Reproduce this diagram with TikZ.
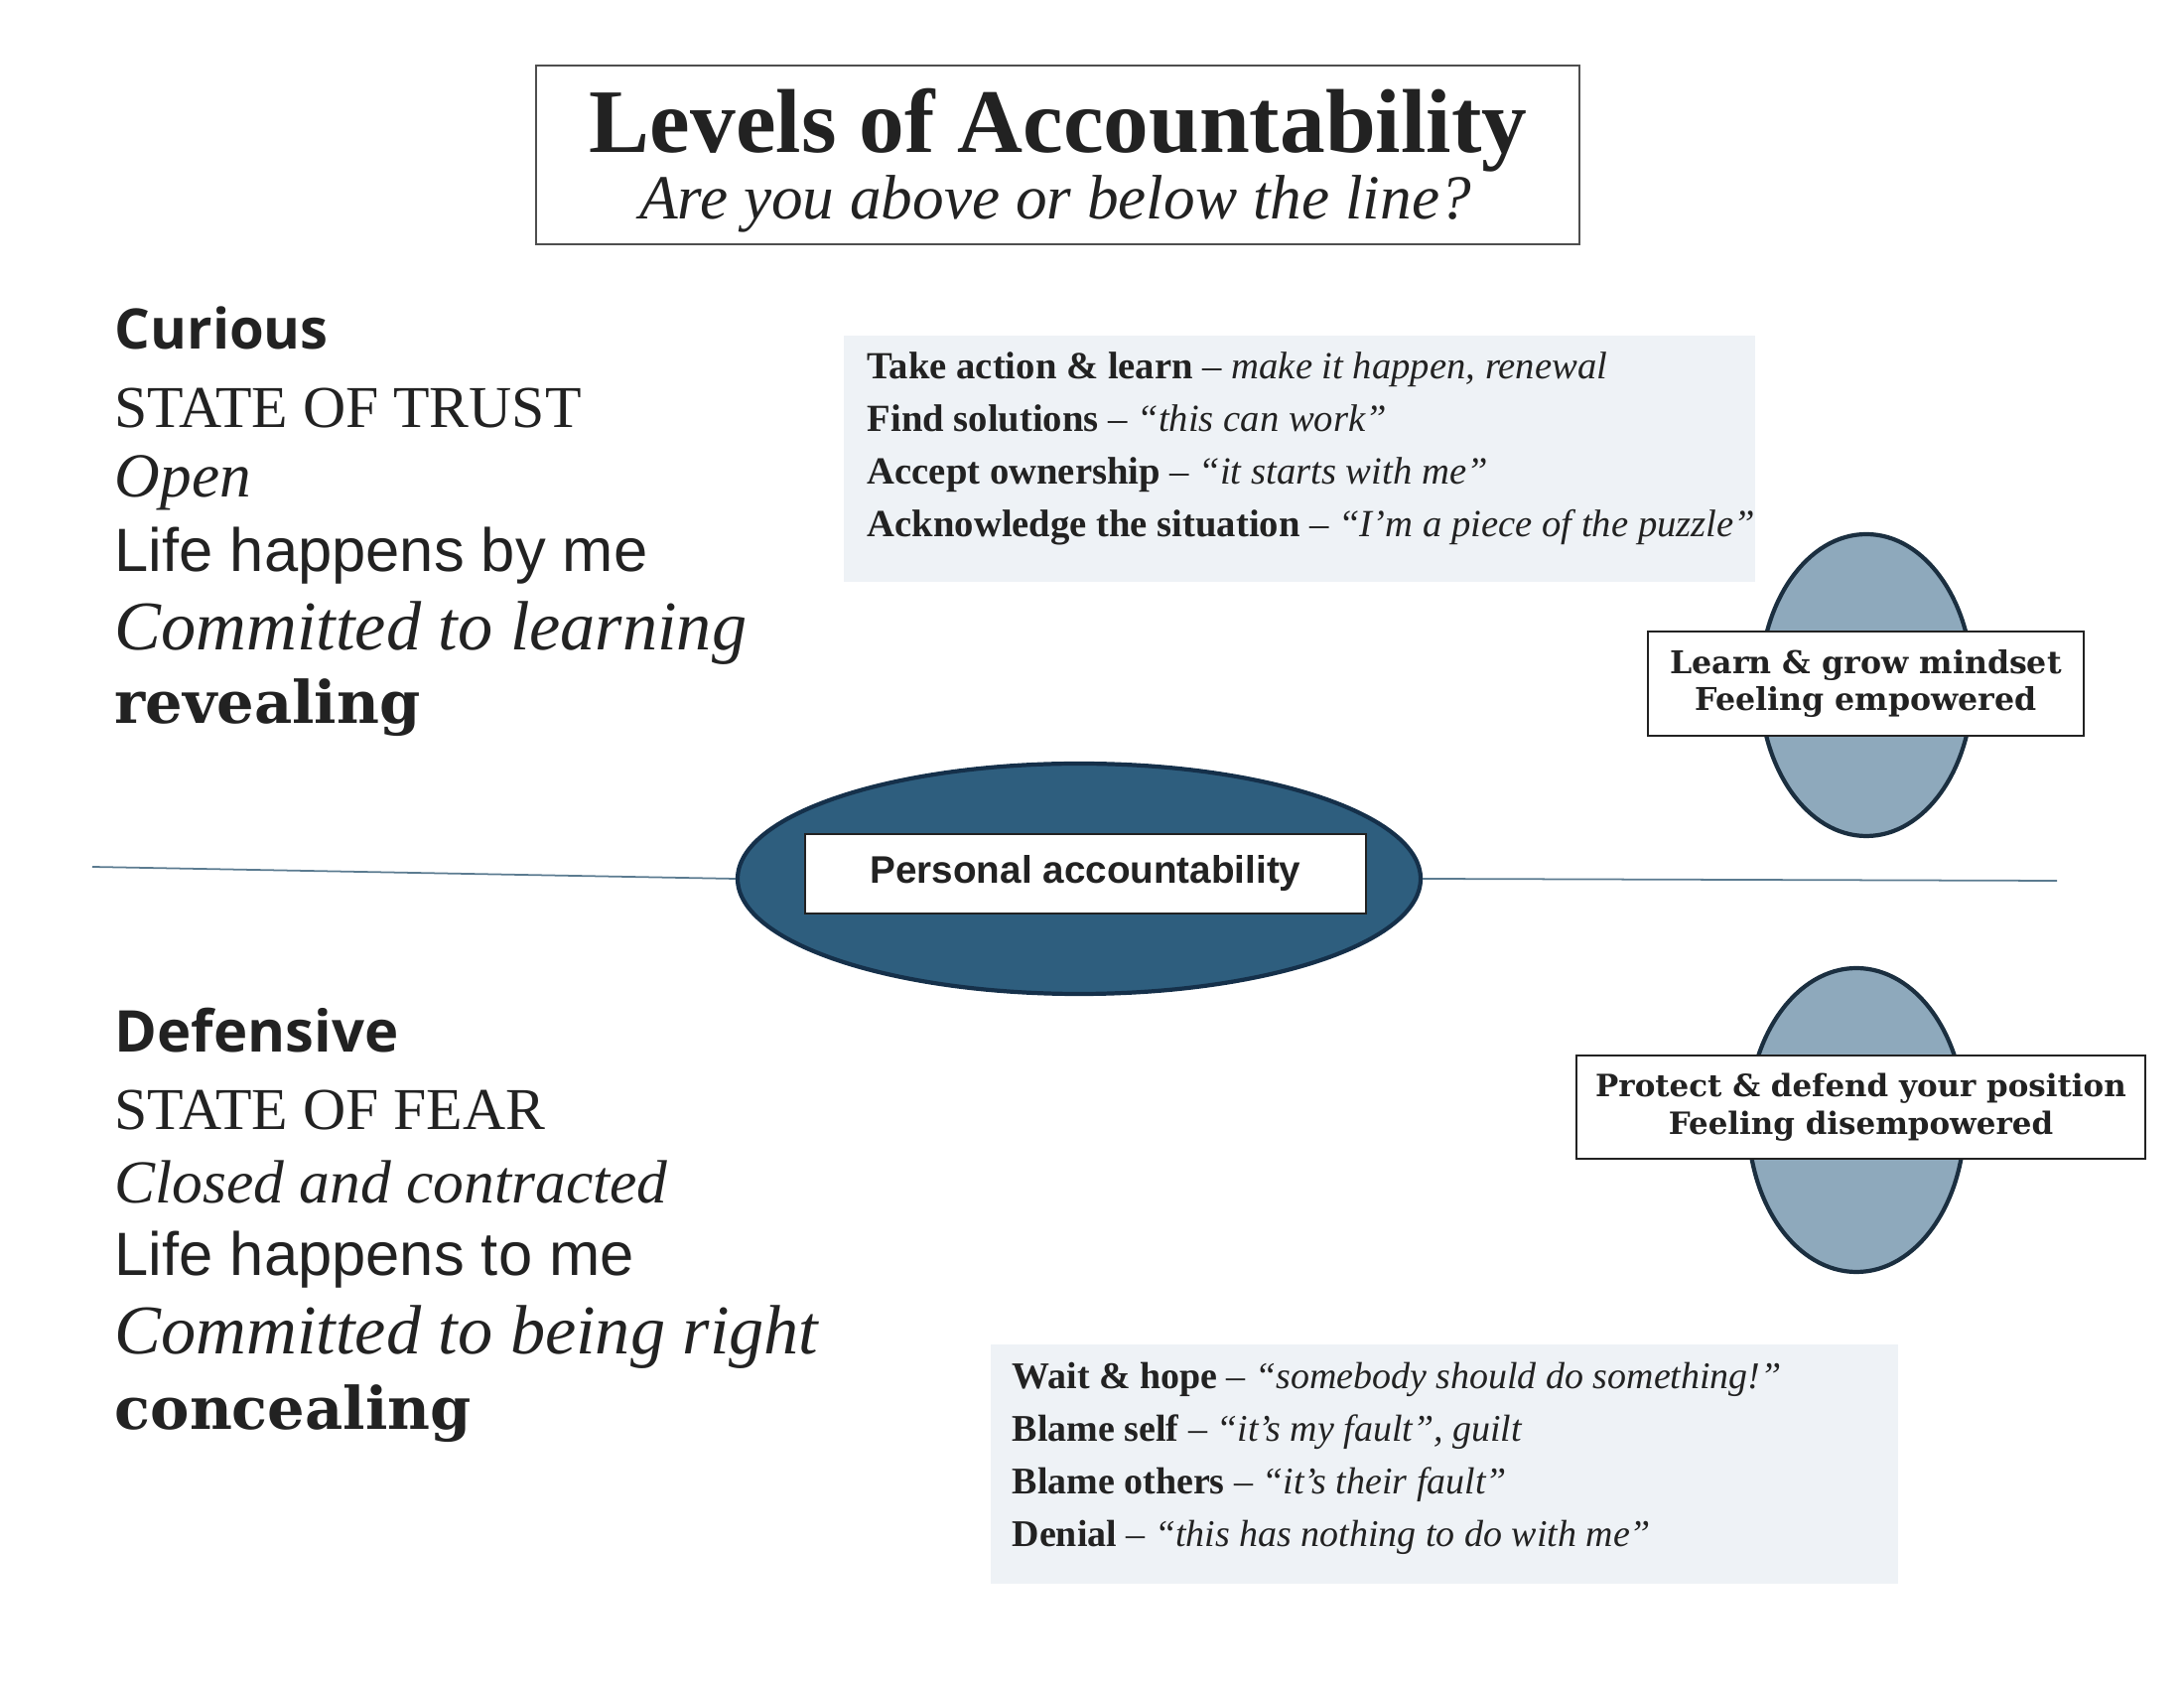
\documentclass[tikz,border=0pt]{standalone}
\usepackage{fontspec}
\setmainfont{Liberation Serif}
\newfontfamily\headsans{Open Sans}
\newfontfamily\plainsans{Liberation Sans}
\newfontfamily\heavyserif{DejaVu Serif}
\usepackage{tikz}
\usetikzlibrary{shapes.geometric, positioning}

\definecolor{inkblack}{HTML}{222222}
\definecolor{coreblue}{HTML}{2E5E7E}
\definecolor{coreedge}{HTML}{15304A}
\definecolor{softblue}{HTML}{8EA9BC}
\definecolor{ovaledge}{HTML}{1B2F40}
\definecolor{panelgray}{HTML}{EEF2F6}
\definecolor{linegray}{HTML}{5B7B90}

\newcommand{\lvline}[2]{\textbf{#1} – \textit{#2}}

\begin{document}
\begin{tikzpicture}[
    frame/.style={rectangle, draw=inkblack!80, line width=0.6pt},
    leftline/.style={anchor=west, inner sep=0pt, text=inkblack},
    panel/.style={rectangle, fill=panelgray, inner sep=0pt},
    listtext/.style={anchor=west, inner sep=0pt, align=left, text=inkblack,
                     font=\fontsize{11}{15.1}\selectfont},
    oval/.style={ellipse, draw=ovaledge, line width=1.2pt, inner sep=0pt},
    tag/.style={rectangle, draw=inkblack, fill=white, line width=0.6pt,
                align=center, text=inkblack,
                font=\heavyserif\bfseries\fontsize{9}{10.8}\selectfont},
    divider/.style={draw=linegray, line width=0.5pt}
]

\useasboundingbox (0,0) rectangle (22,17);

% title
\node[frame, minimum width=10.51cm, minimum height=1.8cm] (titlebox) at (10.655,15.44) {};
\node[text=inkblack, font=\bfseries\fontsize{26}{30}\selectfont] (title) at (10.66,15.69) {Levels of Accountability};
\node[text=inkblack, font=\itshape\fontsize{18}{22}\selectfont] (subtitle) at (10.63,14.95) {Are you above or below the line?};

% above the line
\node[leftline, font=\headsans\bfseries\fontsize{16}{20}\selectfont] (curious) at (1.15,13.70) {Curious};
\node[leftline, font=\fontsize{17}{20}\selectfont] (trust) at (1.15,12.89) {STATE OF TRUST};
\node[leftline, font=\itshape\fontsize{18}{22}\selectfont] (open) at (1.15,12.14) {Open};
\node[leftline, font=\plainsans\fontsize{17.5}{21}\selectfont] (byme) at (1.15,11.40) {Life happens by me};
\node[leftline, font=\itshape\fontsize{20}{24}\selectfont] (learning) at (1.15,10.62) {Committed to learning};
\node[leftline, font=\heavyserif\bfseries\fontsize{16.8}{20}\selectfont] (revealing) at (1.15,9.87) {revealing};

% below the line
\node[leftline, font=\headsans\bfseries\fontsize{16.5}{20}\selectfont] (defensive) at (1.15,6.62) {Defensive};
\node[leftline, font=\fontsize{17}{20}\selectfont] (fear) at (1.15,5.82) {STATE OF FEAR};
\node[leftline, font=\itshape\fontsize{17.5}{21}\selectfont] (closed) at (1.15,5.10) {Closed and contracted};
\node[leftline, font=\plainsans\fontsize{17.5}{21}\selectfont] (tome) at (1.15,4.31) {Life happens to me};
\node[leftline, font=\itshape\fontsize{20}{24}\selectfont] (right) at (1.15,3.53) {Committed to being right};
\node[leftline, font=\heavyserif\bfseries\fontsize{16.8}{20}\selectfont] (concealing) at (1.15,2.76) {concealing};

% the line and the core
\node[oval, draw=coreedge, fill=coreblue, minimum width=6.88cm, minimum height=2.32cm] (core) at (10.87,8.15) {};
\node[rectangle, draw=inkblack, fill=white, line width=0.6pt, minimum width=5.65cm, minimum height=0.8cm,
      text=inkblack, font=\plainsans\bfseries\fontsize{11}{13}\selectfont] (corelabel) at (10.935,8.20) {Personal accountability};
\coordinate (lineL) at (0.93,8.27);
\coordinate (lineR) at (20.72,8.13);
\draw[divider] (lineL) -- (core.west);
\draw[divider] (core.east) -- (lineR);

% upper panel
\node[panel, minimum width=9.18cm, minimum height=2.48cm] (actbox) at (13.09,12.38) {};
\node[listtext] (acttext) at (8.73,12.48) {%
    \lvline{Take action \& learn}{make it happen, renewal}\\
    \lvline{Find solutions}{“this can work”}\\
    \lvline{Accept ownership}{“it starts with me”}\\
    \lvline{Acknowledge the situation}{“I’m a piece of the puzzle”}};

% lower panel
\node[panel, minimum width=9.14cm, minimum height=2.41cm] (blamebox) at (14.55,2.255) {};
\node[listtext, font=\fontsize{10.8}{15.1}\selectfont] (blametext) at (10.19,2.31) {%
    \lvline{Wait \& hope}{“somebody should do something!”}\\
    \lvline{Blame self}{“it’s my fault”, guilt}\\
    \lvline{Blame others}{“it’s their fault”}\\
    \lvline{Denial}{“this has nothing to do with me”}};

% mindsets
\node[oval, fill=softblue, minimum width=2.14cm, minimum height=3.04cm] (grow) at (18.80,10.10) {};
\node[tag, minimum width=4.39cm, minimum height=1.05cm] (growtag) at (18.795,10.115) {Learn \& grow mindset\\Feeling empowered};

\node[oval, fill=softblue, minimum width=2.18cm, minimum height=3.06cm] (defend) at (18.70,5.72) {};
\node[tag, minimum width=5.73cm, minimum height=1.04cm, font=\heavyserif\bfseries\fontsize{8.8}{10.8}\selectfont] (defendtag) at (18.745,5.85) {Protect \& defend your position\\Feeling disempowered};

\end{tikzpicture}
\end{document}
